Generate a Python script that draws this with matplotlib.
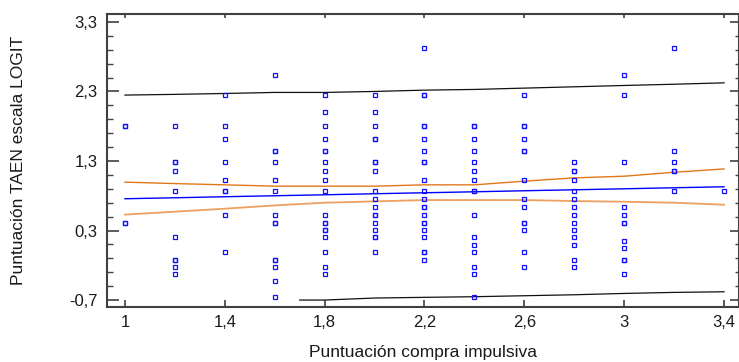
import matplotlib
matplotlib.use("Agg")
import matplotlib.pyplot as plt
from matplotlib.ticker import FixedLocator, NullFormatter

plt.rcParams['font.family'] = ['Liberation Sans', 'DejaVu Sans']

# ---- data ----
x_levels = [1.0, 1.2, 1.4, 1.6, 1.8, 2.0, 2.2, 2.4, 2.6, 2.8, 3.0, 3.2, 3.4]
y_by_x = [
    [1.80, 1.80, 0.41, 0.41],
    [1.80, 1.29, 1.29, 1.15, 0.87, 0.20, -0.13, -0.13, -0.22, -0.33],
    [2.25, 1.80, 1.61, 1.29, 1.02, 0.87, 0.87, 0.53, -0.01],
    [2.54, 1.44, 1.44, 1.29, 1.02, 0.87, 0.53, 0.41, 0.41, -0.13, -0.13, -0.22, -0.43, -0.66],
    [2.25, 2.01, 1.80, 1.61, 1.44, 1.44, 1.29, 1.15, 1.02, 0.87, 0.53, 0.41, 0.41, 0.31, 0.31, 0.20, -0.01, -0.22, -0.33],
    [2.25, 2.01, 1.80, 1.61, 1.61, 1.29, 1.29, 1.15, 0.87, 0.76, 0.64, 0.53, 0.53, 0.41, 0.31, 0.20, 0.20, -0.01],
    [2.93, 2.25, 2.25, 1.80, 1.80, 1.61, 1.44, 1.29, 1.29, 1.02, 0.87, 0.76, 0.64, 0.64, 0.53, 0.41, 0.41, 0.31, 0.20, -0.01, -0.01, -0.13],
    [1.80, 1.80, 1.61, 1.44, 1.29, 1.15, 1.02, 0.87, 0.87, 0.53, 0.20, 0.09, -0.01, -0.22, -0.33, -0.66],
    [2.25, 1.80, 1.80, 1.61, 1.44, 1.44, 1.02, 0.76, 0.64, 0.41, 0.41, 0.31, -0.01, -0.22],
    [1.29, 1.15, 1.15, 1.02, 0.87, 0.76, 0.64, 0.53, 0.41, 0.31, 0.20, 0.09, -0.13, -0.22],
    [2.54, 2.25, 1.29, 0.64, 0.53, 0.41, 0.41, 0.15, 0.05, -0.13, -0.13, -0.33],
    [2.93, 1.44, 1.29, 1.15, 1.15, 0.87],
    [0.87],
]

line_x = [1.0, 1.2, 1.4, 1.6, 1.8, 2.0, 2.2, 2.4, 2.6, 2.8, 3.0, 3.2, 3.4]
fit_y = [0.757, 0.771, 0.786, 0.800, 0.814, 0.829, 0.843, 0.857, 0.872, 0.886, 0.900, 0.915, 0.929]
conf_upper = [0.996, 0.975, 0.957, 0.938, 0.938, 0.938, 0.957, 0.957, 1.010, 1.057, 1.081, 1.138, 1.186]
conf_lower = [0.529, 0.571, 0.614, 0.661, 0.700, 0.719, 0.738, 0.738, 0.738, 0.724, 0.714, 0.700, 0.671]
pred_upper = [2.248, 2.258, 2.271, 2.286, 2.286, 2.300, 2.319, 2.329, 2.348, 2.367, 2.386, 2.404, 2.424]
pred_lower_x = [1.7, 1.8, 2.0, 2.2, 2.4, 2.6, 2.8, 3.0, 3.2, 3.4]
pred_lower = [-0.700, -0.700, -0.671, -0.661, -0.652, -0.638, -0.624, -0.605, -0.590, -0.581]

x_ticks = [1.0, 1.4, 1.8, 2.2, 2.6, 3.0, 3.4]
x_tick_labels = ["1", "1,4", "1,8", "2,2", "2,6", "3", "3,4"]
y_ticks = [-0.7, 0.3, 1.3, 2.3, 3.3]
y_tick_labels = ["-0,7", "0,3", "1,3", "2,3", "3,3"]
x_label = "Puntuación compra impulsiva"
y_label = "Puntuación TAEN escala LOGIT"

# ---- figure ----
W, H = 739, 362
fig = plt.figure(figsize=(W / 100, H / 100), dpi=100)
L, R, T, B = 107, 738.5, 14, 307
ax = fig.add_axes([L / W, 1 - B / H, (R - L) / W, (B - T) / H])
ax.set_xlim(0.928, 3.458)
ax.set_ylim(-0.8, 3.414)

spine_col = "#404040"
for s in ax.spines.values():
    s.set_color(spine_col)
    s.set_linewidth(1.5)

# scatter points
xs, ys = [], []
for xv, col in zip(x_levels, y_by_x):
    for yv in col:
        xs.append(xv)
        ys.append(yv)
ax.plot(xs, ys, linestyle="none", marker="s", ms=3.4, mew=0.9,
        mfc="none", mec="#1010ff", zorder=3)

# lines
ax.plot(line_x, fit_y, color="#0000ff", lw=1.0, zorder=2)
ax.plot(line_x, conf_upper, color="#e0781a", lw=1.0, zorder=2)
ax.plot(line_x, conf_lower, color="#eea060", lw=1.3, zorder=2)
ax.plot(line_x, pred_upper, color="#111111", lw=0.9, zorder=2)
ax.plot(pred_lower_x, pred_lower, color="#111111", lw=0.9, zorder=2)

# ticks
ax.xaxis.set_major_locator(FixedLocator(x_ticks))
ax.set_xticklabels(x_tick_labels)
ax.yaxis.set_major_locator(FixedLocator(y_ticks))
ax.set_yticklabels(y_tick_labels)
minor_y = [-0.7 + 0.2 * i for i in range(21)]
ax.yaxis.set_minor_locator(FixedLocator(minor_y))

ax.tick_params(axis="y", which="major", direction="in", length=8.6, width=1.2,
               color=spine_col, labelsize=12, pad=7, labelcolor="#1a1a1a")
ax.tick_params(axis="y", which="minor", direction="in", length=4.3, width=1.0,
               color=spine_col)
ax.tick_params(axis="x", which="major", direction="in", length=5, width=1.2,
               color=spine_col, labelsize=12, pad=6, labelcolor="#1a1a1a")

top = ax.secondary_xaxis("top")
top.xaxis.set_major_locator(FixedLocator(x_ticks))
top.xaxis.set_major_formatter(NullFormatter())
top.tick_params(direction="in", length=3, width=1.2, color=spine_col)
top.spines["top"].set_visible(False)

right = ax.secondary_yaxis("right")
right.yaxis.set_major_locator(FixedLocator(y_ticks))
right.yaxis.set_minor_locator(FixedLocator(minor_y))
right.yaxis.set_major_formatter(NullFormatter())
right.tick_params(which="major", direction="in", length=6.5, width=1.2, color=spine_col)
right.tick_params(which="minor", direction="in", length=3, width=1.0, color=spine_col)
right.spines["right"].set_visible(False)

fig.text((L + R) / 2 / W, 1 - 352 / H, x_label, ha="center", va="center",
         fontsize=12.5, color="#1a1a1a")
fig.text(19 / W, 1 - (T + B) / 2 / H, y_label, ha="center", va="center",
         rotation=90, fontsize=12.5, color="#1a1a1a")

fig.savefig("out.png", dpi=100)
